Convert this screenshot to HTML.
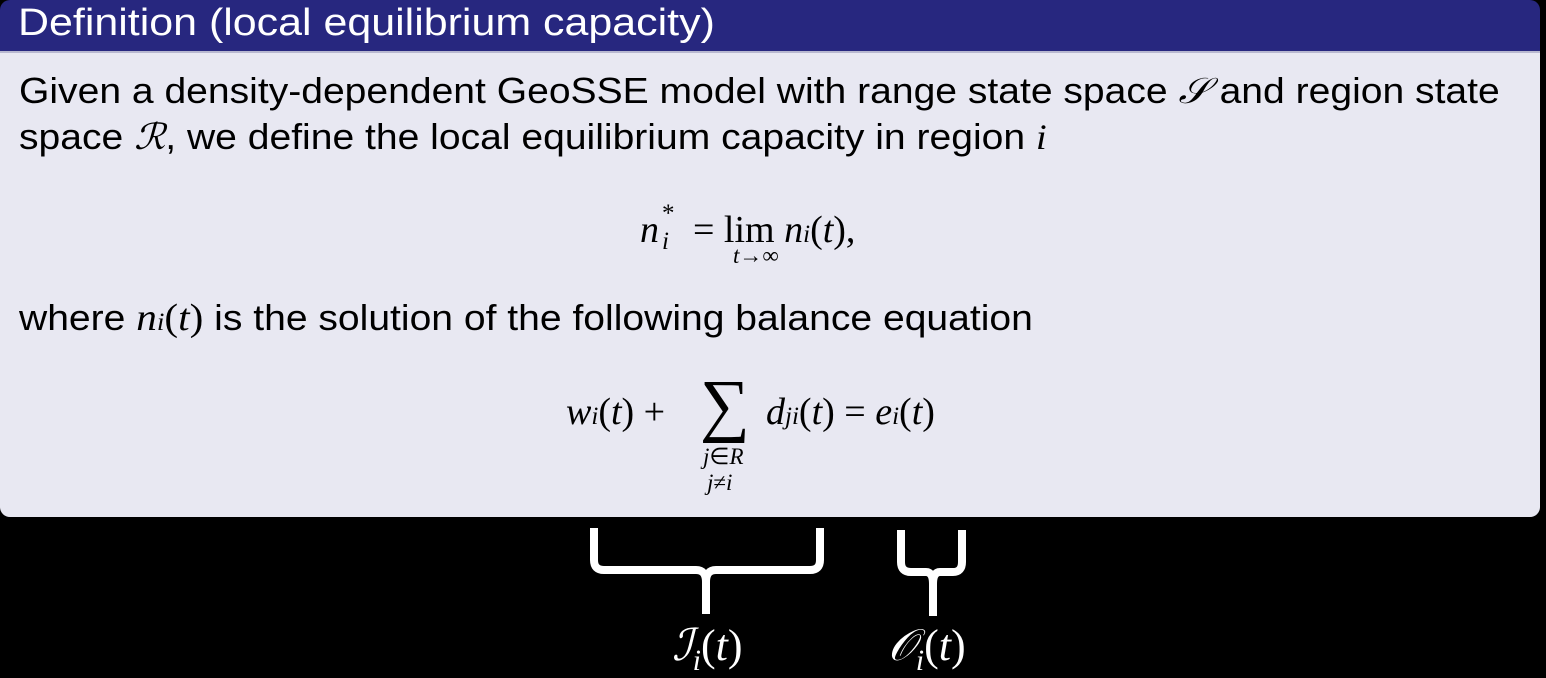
<!DOCTYPE html>
<html><head><meta charset="utf-8"><style>
body{margin:0;width:1546px;height:678px;background:#000;position:relative;overflow:hidden;font-family:"Liberation Sans",sans-serif}
.hdr{position:absolute;left:0;top:0;width:1540px;height:51px;background:#27277f;border-radius:10px 10px 0 0}
.hdr span{position:absolute;left:18px;top:2px;color:#fff;font-size:38px;transform:scaleX(1.13);transform-origin:0 0;white-space:nowrap}
.bd{position:absolute;left:0;top:51px;width:1540px;height:466px;background:#e8e8f2;border-radius:0 0 10px 10px;border-top:2px solid #b8b8d0;box-sizing:border-box}
.t{position:absolute;font-size:36px;color:#000;white-space:nowrap;transform-origin:0 0}
.s{transform:scaleX(1.085)}
.m{font-family:"Liberation Serif",serif;font-style:italic}
.r{font-family:"Liberation Serif",serif;font-size:38px}
.sb{font-size:25px}
.w{position:absolute;color:#fff;font-family:"Liberation Serif",serif;font-size:44px;white-space:nowrap}
</style></head><body>
<div class="hdr"><span>Definition (local equilibrium capacity)</span></div>
<div class="bd"></div>
<div class="t s" style="left:19px;top:70px">Given a density-dependent GeoSSE model with range state space <span class="m">𝒮</span> and region state</div>
<div class="t s" style="left:19px;top:116px">space <span class="m">ℛ</span>, we define the local equilibrium capacity in region <span class="m">i</span></div>
<div class="t r" style="left:640px;top:208px"><i>n</i></div>
<div class="t r" style="left:662px;top:200px;font-size:25px">*</div>
<div class="t r" style="left:662px;top:228px;font-size:25px"><i>i</i></div>
<div class="t r" style="left:693px;top:208px">= lim <i>n<span class="sb">i</span></i>(<i>t</i>),</div>
<div class="t r" style="left:733px;top:243px;font-size:23px"><i>t</i>→∞</div>
<div class="t s" style="left:19px;top:296px">where <span class="m" style="font-family:'Liberation Serif',serif;font-size:38px">n<span class="sb">i</span></span><span style="font-family:'Liberation Serif',serif;font-size:38px">(<i>t</i>)</span> is the solution of the following balance equation</div>
<div class="t r" style="left:566px;top:390px"><i>w<span class="sb">i</span></i>(<i>t</i>) +</div>
<div class="t r" style="left:700px;top:366px;font-size:70px">∑</div>
<div class="t r" style="left:766px;top:390px"><i>d<span class="sb">ji</span></i>(<i>t</i>) = <i>e<span class="sb">i</span></i>(<i>t</i>)</div>
<div class="t r" style="left:703px;top:444px;font-size:23px"><i>j</i>∈<i>R</i></div>
<div class="t r" style="left:707px;top:470px;font-size:23px"><i>j</i>≠<i>i</i></div>
<svg width="1546" height="678" style="position:absolute;left:0;top:0">
<path d="M594 528 V560 Q594 570 604 570 H696 Q706 570 706 582 V614 M706 614 V582 Q706 570 716 570 H810 Q820 570 820 560 V528" stroke="#fff" stroke-width="8" fill="none"/>
<path d="M901 530 V562 Q901 572 911 572 H926 Q933 572 933 584 V616 M933 584 Q933 572 940 572 H953 Q962 572 962 562 V530" stroke="#fff" stroke-width="8" fill="none"/>
</svg>
<div class="w" style="left:672px;top:620px"><i>ℐ</i><sub style="font-size:30px"><i>i</i></sub>(<i>t</i>)</div>
<div class="w" style="left:888px;top:620px"><i>𝒪</i><sub style="font-size:30px"><i>i</i></sub>(<i>t</i>)</div>
</body></html>
